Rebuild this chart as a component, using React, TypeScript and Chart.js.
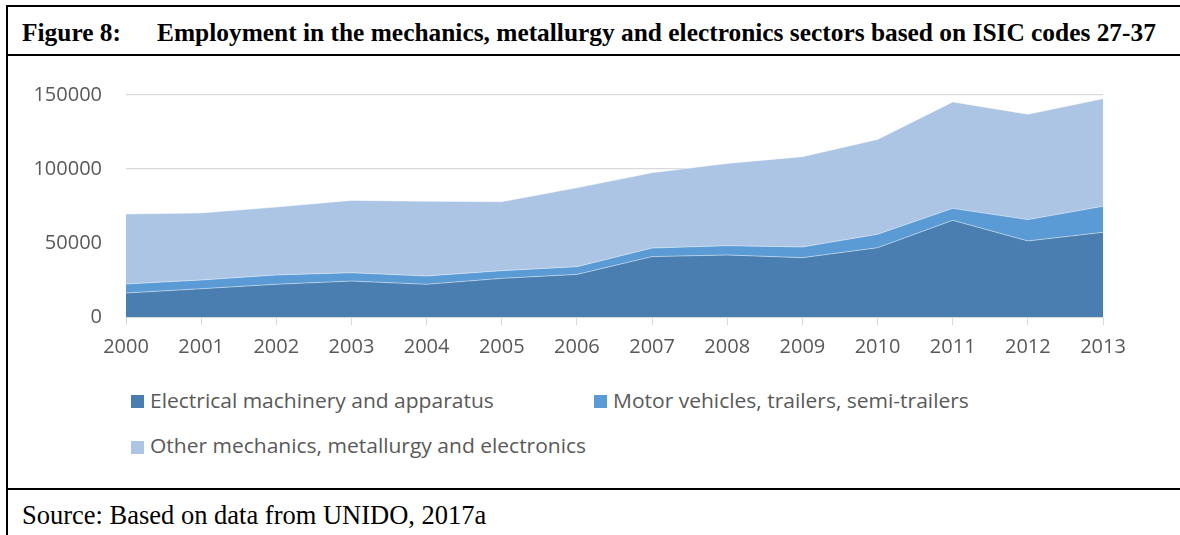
import React, { useEffect, useRef } from "react";
import { Chart, registerables } from "chart.js";

Chart.register(...registerables);

const years = ["2000", "2001", "2002", "2003", "2004", "2005", "2006", "2007", "2008", "2009", "2010", "2011", "2012", "2013"];
const electrical = [16200, 19100, 22100, 24300, 22100, 26100, 28800, 40800, 41900, 40100, 46800, 65300, 51400, 57200];
const motor = [6100, 5900, 6300, 5600, 5600, 5200, 5200, 5800, 6300, 7200, 9100, 8100, 14400, 17600];
const other = [47300, 45300, 45900, 48900, 50500, 46600, 53400, 50900, 55600, 61000, 64100, 71900, 71200, 72700];
const seriesNames = [
  "Electrical machinery and apparatus",
  "Motor vehicles, trailers, semi-trailers",
  "Other mechanics, metallurgy and electronics",
];
const seriesColors = ["#4A7EB0", "#5B9BD5", "#ADC5E5"];
const yTicks = [0, 50000, 100000, 150000];

const titleLabel = "Figure 8:";
const titleText = "Employment in the mechanics, metallurgy and electronics sectors based on ISIC codes 27-37";
const sourceText = "Source: Based on data from UNIDO, 2017a";

export default function App() {
  const canvasRef = useRef<HTMLCanvasElement | null>(null);

  useEffect(() => {
    if (!canvasRef.current) return;
    const chart = new Chart(canvasRef.current, {
      type: "line",
      data: {
        labels: years,
        datasets: [electrical, motor, other].map((d, i) => ({
          label: seriesNames[i],
          data: d,
          backgroundColor: seriesColors[i],
          borderColor: "rgba(255,255,255,0.45)",
          borderWidth: 1,
          pointRadius: 0,
          tension: 0,
          fill: i === 0 ? "origin" : "-1",
        })),
      },
      options: {
        animation: false,
        responsive: false,
        maintainAspectRatio: false,
        layout: { padding: { top: 38, right: 75, bottom: 0, left: 0 } },
        plugins: { legend: { display: false }, tooltip: { enabled: false } },
        scales: {
          x: {
            offset: false,
            grid: { drawOnChartArea: false, drawTicks: true, tickLength: 8, color: "#D9D9D9" },
            border: { display: true, color: "#D9D9D9", width: 1 },
            ticks: { color: "#595959", font: { family: "Open Sans", size: 20 }, padding: 10, maxRotation: 0, autoSkip: false },
            afterFit: (s: any) => { s.height = 60; },
          },
          y: {
            stacked: true,
            min: 0,
            max: 150000,
            afterBuildTicks: (s: any) => { s.ticks = yTicks.map((v) => ({ value: v })); },
            grid: { color: "#D9D9D9", lineWidth: 1.3, drawTicks: false },
            border: { display: false },
            ticks: {
              color: "#595959",
              font: { family: "Open Sans", size: 20 },
              padding: 24,
              callback: (v: any) => String(v),
            },
            afterFit: (s: any) => { s.width = 118; },
          },
        },
      },
    });
    return () => chart.destroy();
  }, []);

  const line = (l: number, t: number, w: number, h: number) => (
    <div style={{ position: "absolute", left: l, top: t, width: w, height: h, background: "#000" }} />
  );

  const serif: React.CSSProperties = {
    position: "absolute",
    fontFamily: "'Liberation Serif', 'Times New Roman', serif",
    whiteSpace: "nowrap",
    color: "#000",
  };

  const legendItem = (i: number, l: number, t: number) => (
    <div key={i} style={{ position: "absolute", left: l, top: t, height: 20, whiteSpace: "nowrap" }}>
      <div style={{ position: "absolute", left: 0, top: 4.5, width: 13, height: 13, background: seriesColors[i] }} />
      <div
        style={{
          position: "absolute",
          left: 19,
          top: 0,
          fontFamily: "'Open Sans', sans-serif",
          fontSize: 20,
          lineHeight: "20px",
          color: "#595959",
          transform: "scaleX(1.05)",
          transformOrigin: "left top",
        }}
      >
        {seriesNames[i]}
      </div>
    </div>
  );

  return (
    <div style={{ position: "absolute", left: 0, top: 0, width: 1180, height: 535, background: "#fff", overflow: "hidden" }}>
      {line(6, 5, 1174, 2)}
      {line(6, 5, 2, 530)}
      {line(6, 54, 1174, 2)}
      {line(6, 488, 1174, 2)}
      <div style={{ ...serif, left: 22, top: 20, fontSize: 25.4, lineHeight: "25.4px", fontWeight: "bold" }}>{titleLabel}</div>
      <div style={{ ...serif, left: 157, top: 20, fontSize: 25.4, lineHeight: "25.4px", fontWeight: "bold" }}>{titleText}</div>
      <div style={{ ...serif, left: 22, top: 502, fontSize: 26.5, lineHeight: "26.5px" }}>{sourceText}</div>
      <div style={{ position: "absolute", left: 8, top: 57, width: 1170, height: 320 }}>
        <canvas ref={canvasRef} width={1170} height={320} style={{ width: 1170, height: 320, display: "block" }} />
      </div>
      {legendItem(0, 131, 390.5)}
      {legendItem(1, 594, 390.5)}
      {legendItem(2, 131, 436)}
    </div>
  );
}
